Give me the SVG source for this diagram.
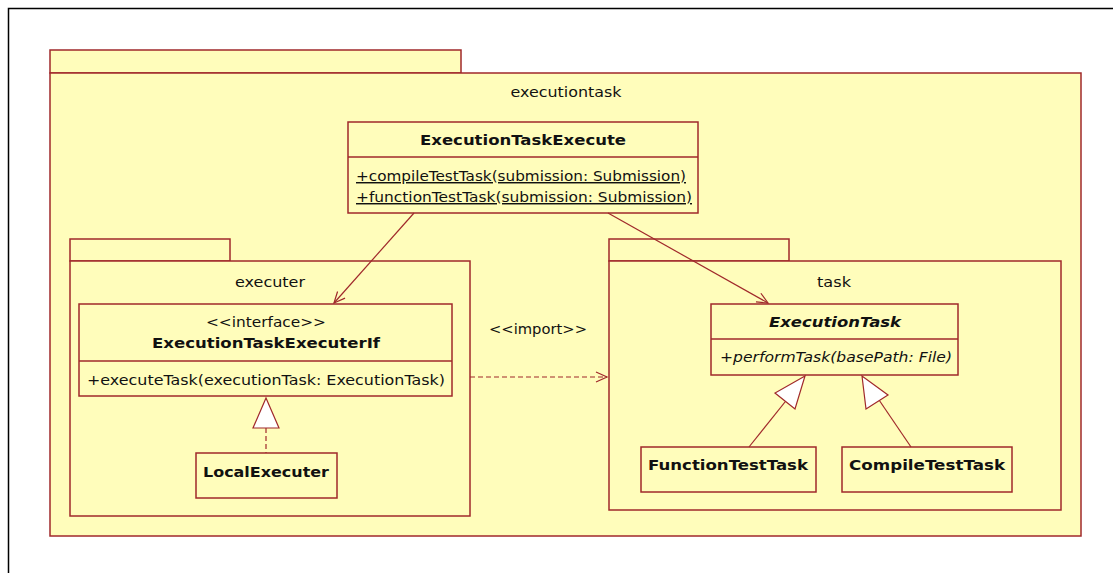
<svg xmlns="http://www.w3.org/2000/svg" width="1113" height="573" viewBox="0 0 1113 573">
  <style>
    .pkg { fill: #FFFDBB; stroke: #A0292B; stroke-width: 1.5; }
    .cls { fill: #FFFDBB; stroke: #A0292B; stroke-width: 1.5; }
    .div { stroke: #A0292B; stroke-width: 1.5; }
    .t { font-family: "DejaVu Sans", Verdana, sans-serif; font-size: 14.5px; fill: #111; }
    .b { font-weight: bold; }
    .i { font-style: italic; }
    .u { text-decoration: underline; }
    .c { text-anchor: middle; }
    .edge { stroke: #A0292B; stroke-width: 1.2; fill: none; }
    .dash { stroke-dasharray: 5 3; }
    .tri { fill: #FFFFFF; stroke: #A0292B; stroke-width: 1.2; }
  </style>
  <defs>
    <marker id="open" markerWidth="14" markerHeight="12" refX="12" refY="6" orient="auto" markerUnits="userSpaceOnUse">
      <path d="M1,1 L12,6 L1,11" fill="none" stroke="#A0292B" stroke-width="1.2"/>
    </marker>
  </defs>

  <rect width="1113" height="573" fill="#FFFFFF"/>
  <!-- frame -->
  <path d="M8.5,573 L8.5,8.5 L1113,8.5" fill="none" stroke="#000" stroke-width="1.5"/>

  <!-- package: executiontask -->
  <g id="pkg-executiontask">
    <rect class="pkg" x="50" y="50" width="411" height="23"/>
    <rect class="pkg" x="50" y="73" width="1031" height="463"/>
    <text class="t c" x="566" y="97" textLength="111" lengthAdjust="spacingAndGlyphs">executiontask</text>
  </g>

  <!-- package: executer -->
  <g id="pkg-executer">
    <rect class="pkg" x="70" y="239" width="160" height="22"/>
    <rect class="pkg" x="70" y="261" width="400" height="255"/>
    <text class="t c" x="270" y="287" textLength="70" lengthAdjust="spacingAndGlyphs">executer</text>
  </g>

  <!-- package: task -->
  <g id="pkg-task">
    <rect class="pkg" x="609" y="239" width="180" height="22"/>
    <rect class="pkg" x="609" y="261" width="452" height="249"/>
    <text class="t c" x="834" y="287" textLength="34" lengthAdjust="spacingAndGlyphs">task</text>
  </g>

  <g id="ExecutionTaskExecute">
    <rect class="cls" x="348" y="122" width="350" height="91"/>
    <line class="div" x1="348" y1="157" x2="698" y2="157"/>
    <text class="t b c" x="523" y="145" textLength="206" lengthAdjust="spacingAndGlyphs">ExecutionTaskExecute</text>
    <text class="t u" x="356" y="181" textLength="330" lengthAdjust="spacingAndGlyphs">+compileTestTask(submission: Submission)</text>
    <text class="t u" x="356" y="202" textLength="336" lengthAdjust="spacingAndGlyphs">+functionTestTask(submission: Submission)</text>
  </g>

  <g id="ExecutionTaskExecuterIf">
    <rect class="cls" x="79" y="304" width="373" height="92"/>
    <line class="div" x1="79" y1="361" x2="452" y2="361"/>
    <text class="t c" x="266" y="327" textLength="120" lengthAdjust="spacingAndGlyphs">&lt;&lt;interface&gt;&gt;</text>
    <text class="t b c" x="266" y="348" textLength="228" lengthAdjust="spacingAndGlyphs">ExecutionTaskExecuterIf</text>
    <text class="t" x="87" y="385" textLength="358" lengthAdjust="spacingAndGlyphs">+executeTask(executionTask: ExecutionTask)</text>
  </g>

  <g id="LocalExecuter">
    <rect class="cls" x="196" y="453" width="141" height="45"/>
    <text class="t b c" x="266" y="477" textLength="126" lengthAdjust="spacingAndGlyphs">LocalExecuter</text>
  </g>

  <g id="ExecutionTask">
    <rect class="cls" x="711" y="304" width="247" height="71"/>
    <line class="div" x1="711" y1="339" x2="958" y2="339"/>
    <text class="t b i c" x="835" y="327" textLength="132" lengthAdjust="spacingAndGlyphs">ExecutionTask</text>
    <text class="t i" x="720" y="362" textLength="232" lengthAdjust="spacingAndGlyphs">+performTask(basePath: File)</text>
  </g>

  <g id="FunctionTestTask">
    <rect class="cls" x="641" y="447" width="175" height="45"/>
    <text class="t b c" x="728" y="470" textLength="160" lengthAdjust="spacingAndGlyphs">FunctionTestTask</text>
  </g>

  <g id="CompileTestTask">
    <rect class="cls" x="842" y="447" width="170" height="45"/>
    <text class="t b c" x="927" y="470" textLength="156" lengthAdjust="spacingAndGlyphs">CompileTestTask</text>
  </g>

  <g id="connectors">
    <!-- dependencies from ExecutionTaskExecute -->
    <line class="edge" x1="414" y1="213" x2="334" y2="303" marker-end="url(#open)"/>
    <line class="edge" x1="608" y1="213" x2="768" y2="303" marker-end="url(#open)"/>
    <!-- import -->
    <line class="edge dash" x1="470" y1="377" x2="607" y2="377" marker-end="url(#open)"/>
    <text class="t c" x="538" y="334" textLength="98" lengthAdjust="spacingAndGlyphs">&lt;&lt;import&gt;&gt;</text>
    <!-- realization -->
    <line class="edge dash" x1="266" y1="428" x2="266" y2="453"/>
    <polygon class="tri" points="266,398 253,428 279,428"/>
    <!-- generalizations -->
    <line class="edge" x1="749" y1="447" x2="789" y2="397"/>
    <polygon class="tri" points="805,376 775,393 795,409"/>
    <line class="edge" x1="911" y1="447" x2="877" y2="397"/>
    <polygon class="tri" points="862,376 866,409 888,395"/>
  </g>
</svg>
